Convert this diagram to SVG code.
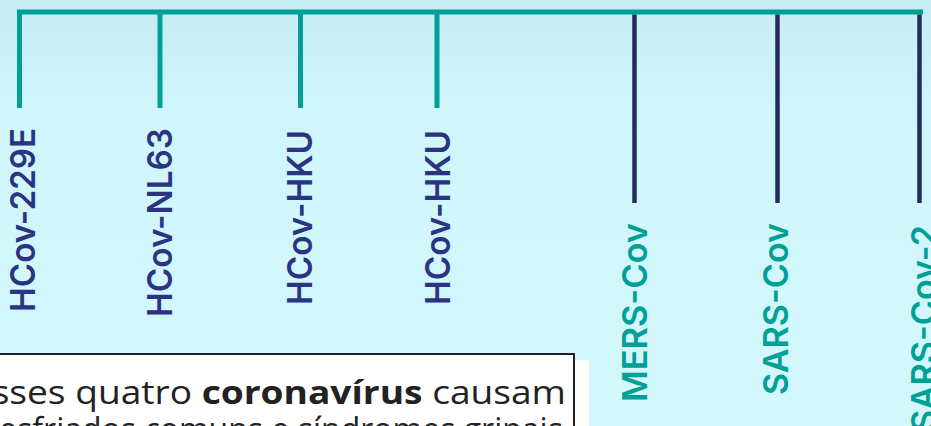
<svg xmlns="http://www.w3.org/2000/svg" width="931" height="426" viewBox="0 0 931 426">
  <defs>
    <linearGradient id="sky" x1="0" y1="0" x2="0" y2="1">
      <stop offset="0" stop-color="#c6ebf0"/>
      <stop offset="0.25" stop-color="#d0f6fb"/>
      <stop offset="1" stop-color="#d2f8fd"/>
    </linearGradient>
    <clipPath id="note-clip">
      <rect x="0" y="355" width="573" height="80"/>
    </clipPath>
    <style>
      .teal-line { stroke: #00a096; stroke-width: 5; fill: none; }
      .navy-line { stroke: #272a58; stroke-width: 4.5; fill: none; }
      .lbl { font-family: Inter, "Open Sans", "DejaVu Sans", sans-serif; font-size: 34px; font-weight: 600; }
      .lbl-navy { fill: #2b3483; }
      .lbl-teal { fill: #00a096; }
      .note { font-family: "Open Sans", "Liberation Sans", sans-serif; font-size: 32px; fill: #222222; }
    </style>
  </defs>

  <rect x="0" y="0" width="931" height="426" fill="url(#sky)"/>

  <!-- connectors: main bar and branches -->
  <g id="connectors">
    <line class="teal-line" x1="17" y1="12" x2="923" y2="12"/>
    <line class="teal-line" x1="19.5" y1="12" x2="19.5" y2="108"/>
    <line class="teal-line" x1="160" y1="12" x2="160" y2="108"/>
    <line class="teal-line" x1="300.5" y1="12" x2="300.5" y2="108"/>
    <line class="teal-line" x1="437" y1="12" x2="437" y2="108"/>
    <line class="navy-line" x1="634.5" y1="14.5" x2="634.5" y2="203"/>
    <line class="navy-line" x1="777.5" y1="14.5" x2="777.5" y2="203"/>
    <line class="navy-line" x1="919.5" y1="14.5" x2="919.5" y2="203"/>
  </g>

  <g id="hcov-229e">
    <text class="lbl lbl-navy" transform="translate(35,312) rotate(-90)" textLength="184" lengthAdjust="spacingAndGlyphs">HCov-229E</text>
  </g>
  <g id="hcov-nl63">
    <text class="lbl lbl-navy" transform="translate(172,317) rotate(-90)" textLength="189" lengthAdjust="spacingAndGlyphs">HCov-NL63</text>
  </g>
  <g id="hcov-hku-a">
    <text class="lbl lbl-navy" transform="translate(312,305) rotate(-90)" textLength="175" lengthAdjust="spacingAndGlyphs">HCov-HKU</text>
  </g>
  <g id="hcov-hku-b">
    <text class="lbl lbl-navy" transform="translate(450,305) rotate(-90)" textLength="175" lengthAdjust="spacingAndGlyphs">HCov-HKU</text>
  </g>
  <g id="mers-cov">
    <text class="lbl lbl-teal" transform="translate(647,402) rotate(-90)" textLength="179" lengthAdjust="spacingAndGlyphs">MERS-Cov</text>
  </g>
  <g id="sars-cov">
    <text class="lbl lbl-teal" transform="translate(788,395) rotate(-90)" textLength="172" lengthAdjust="spacingAndGlyphs">SARS-Cov</text>
  </g>
  <g id="sars-cov-2">
    <text class="lbl lbl-teal" transform="translate(936,432) rotate(-90)" textLength="207" lengthAdjust="spacingAndGlyphs">SARS-Cov-2</text>
  </g>

  <!-- note box, running off the left and bottom edges -->
  <g id="note">
    <rect x="-10" y="360" width="599" height="80" fill="#ffffff"/>
    <rect x="-10" y="354" width="584" height="90" fill="#ffffff" stroke="#222222" stroke-width="2"/>
    <g clip-path="url(#note-clip)">
      <text class="note" x="-29" y="404" textLength="595" lengthAdjust="spacingAndGlyphs">Esses quatro <tspan font-weight="700">coronavírus</tspan> causam</text>
      <text class="note" x="-14" y="441">resfriados comuns e síndromes gripais leves</text>
    </g>
  </g>
</svg>
